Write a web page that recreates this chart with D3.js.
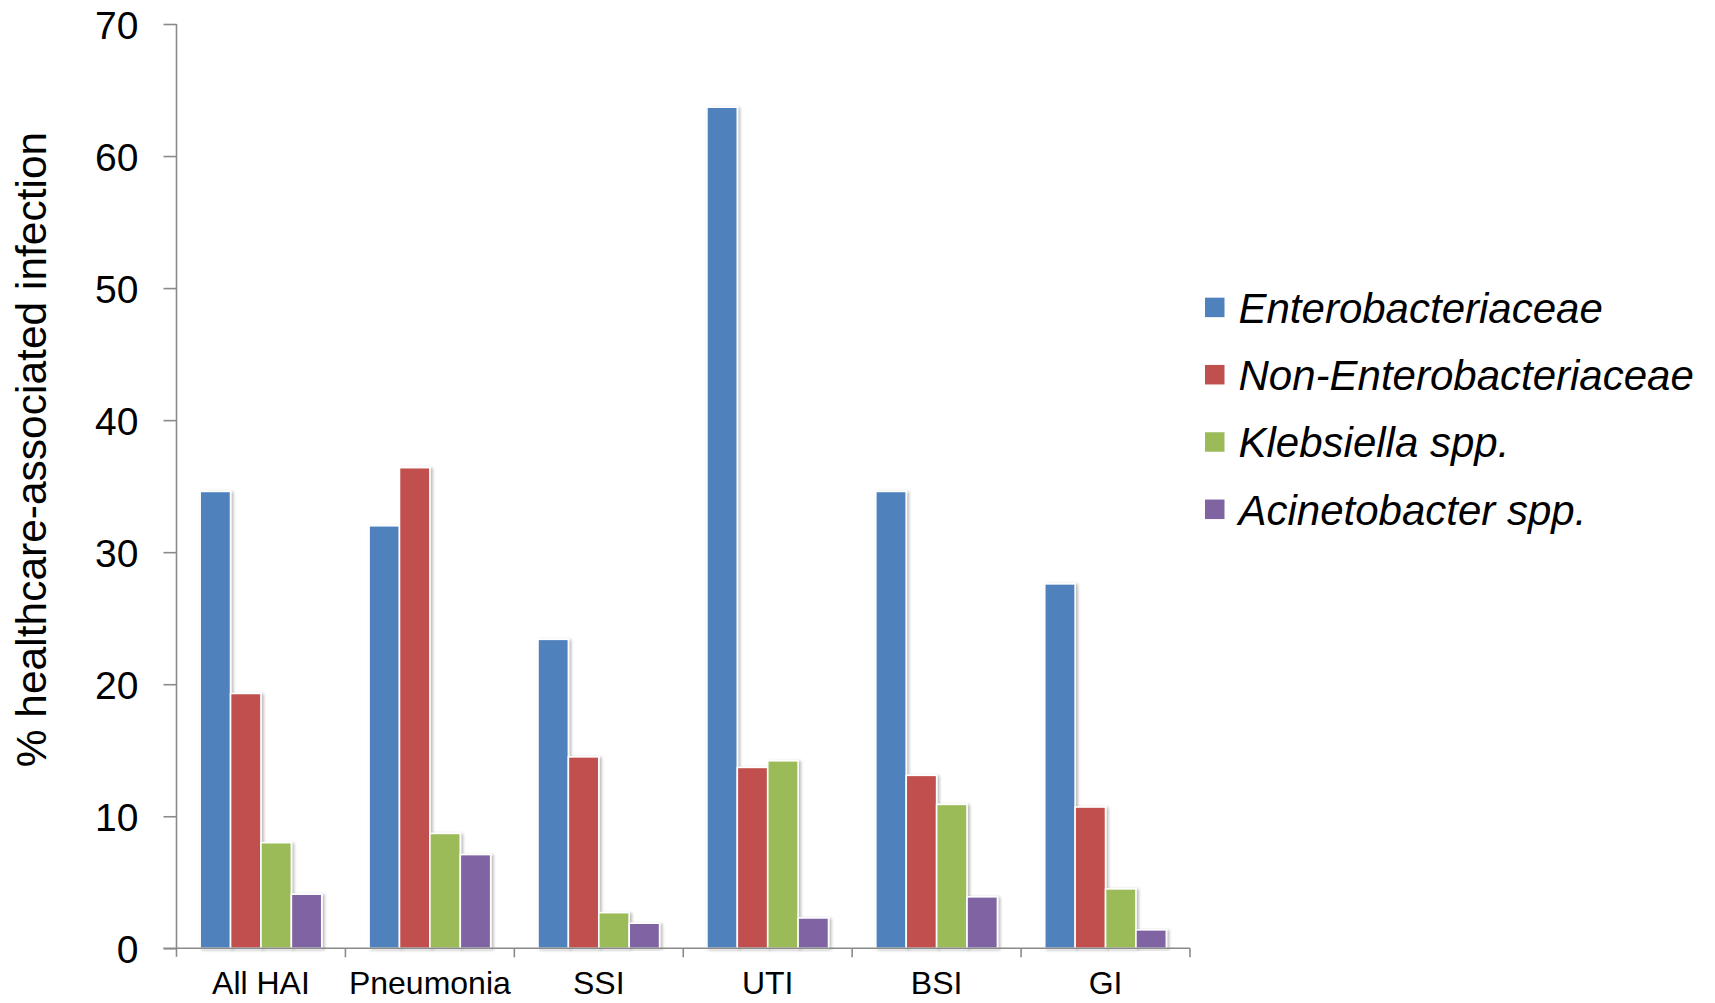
<!DOCTYPE html>
<html>
<head>
<meta charset="utf-8">
<script src="https://cdn.jsdelivr.net/npm/d3@7"></script>
<style>
  html, body { margin: 0; padding: 0; background: #fff; }
  svg { display: block; font-family: "Liberation Sans", Arial, sans-serif; }
</style>
</head>
<body>
<svg id="chart" width="1715" height="1003"></svg>
<script>
// Infection sites and the organism groups reported for each
const categories = ["All HAI", "Pneumonia", "SSI", "UTI", "BSI", "GI"];
const seriesNames = ["Enterobacteriaceae", "Non-Enterobacteriaceae", "Klebsiella spp.", "Acinetobacter spp."];
const enterobacteriaceae    = [34.6, 32.0, 23.4, 63.7, 34.6, 27.6];
const nonEnterobacteriaceae = [19.3, 36.4, 14.5, 13.7, 13.1, 10.7];
const klebsiella            = [8.0, 8.7, 2.7, 14.2, 10.9, 4.5];
const acinetobacter         = [4.1, 7.1, 1.9, 2.3, 3.9, 1.4];
const yTicks = [0, 10, 20, 30, 40, 50, 60, 70];
const yTitle = "% healthcare-associated infection";

const seriesValues = [enterobacteriaceae, nonEnterobacteriaceae, klebsiella, acinetobacter];
const colors = ["#4F81BD", "#C0504D", "#9BBB59", "#8064A2"];

const svg = d3.select("#chart");
const axisColor = "#8a8a8a";

// Drop shadow used on the bars
const defs = svg.append("defs");
const f = defs.append("filter").attr("id", "shadow")
  .attr("x", "-20%").attr("y", "-5%").attr("width", "150%").attr("height", "115%");
f.append("feDropShadow").attr("dx", 2).attr("dy", 1).attr("stdDeviation", 1.5)
  .attr("flood-color", "#000").attr("flood-opacity", 0.28);

const plot = { left: 176.5, right: 1190, top: 24, bottom: 948.3 };

const y = d3.scaleLinear().domain([0, 70]).range([plot.bottom, plot.top]);
const x0 = d3.scaleBand().domain(categories).range([plot.left, plot.right]).padding(0);
const bw = x0.bandwidth();
const inset = bw * 0.14;
const x1 = d3.scaleBand().domain(seriesNames).range([inset, bw - inset]).padding(0);

// Bars
const groups = svg.append("g").selectAll("g")
  .data(categories)
  .join("g")
  .attr("transform", d => `translate(${x0(d)},0)`);

groups.selectAll("rect")
  .data((c, i) => seriesNames.map((s, k) => ({ s, k, v: seriesValues[k][i] })))
  .join("rect")
  .attr("x", d => x1(d.s))
  .attr("y", d => y(d.v))
  .attr("width", x1.bandwidth())
  .attr("height", d => y(0) - y(d.v))
  .attr("fill", d => colors[d.k])
  .attr("stroke", "#fff")
  .attr("stroke-width", 1.6)
  .attr("filter", "url(#shadow)");

// Y axis
const yAxis = svg.append("g")
  .attr("transform", `translate(${plot.left},0)`)
  .call(d3.axisLeft(y).tickValues(yTicks).tickSize(13).tickPadding(25).tickSizeOuter(0));
yAxis.select(".domain").attr("stroke", axisColor).attr("stroke-width", 1.6)
  .attr("d", `M0,${plot.top}V${plot.bottom + 8.5}`);
yAxis.selectAll(".tick line").attr("stroke", axisColor).attr("stroke-width", 1.6);
yAxis.selectAll(".tick text")
  .attr("fill", "#000")
  .style("font-size", "39px")
  .style("font-family", "'Liberation Sans', Arial, sans-serif")
  .attr("dy", "0.36em");

// X axis: ticks at category boundaries
const xAxis = svg.append("g").attr("transform", `translate(0,${plot.bottom})`);
xAxis.append("line")
  .attr("x1", plot.left - 13).attr("x2", plot.right)
  .attr("stroke", axisColor).attr("stroke-width", 1.6);
const boundaries = categories.map(c => x0(c)).concat([x0(categories[categories.length - 1]) + bw]);
xAxis.selectAll(".bt").data(boundaries.slice(1)).join("line")
  .attr("class", "bt")
  .attr("x1", d => d).attr("x2", d => d)
  .attr("y1", 0).attr("y2", 9)
  .attr("stroke", axisColor).attr("stroke-width", 1.6);
xAxis.selectAll(".cl").data(categories).join("text")
  .attr("class", "cl")
  .attr("x", d => x0(d) + bw / 2)
  .attr("y", 46)
  .attr("text-anchor", "middle")
  .style("font-size", "32px")
  .attr("fill", "#000")
  .text(d => d);

// Y axis title
svg.append("text")
  .attr("transform", `translate(46,449.5) rotate(-90)`)
  .attr("text-anchor", "middle")
  .style("font-size", "42.5px")
  .attr("fill", "#000")
  .text(yTitle);

// Legend
const legend = svg.append("g").attr("transform", "translate(1205,307.4)");
const items = legend.selectAll("g").data(seriesNames).join("g")
  .attr("transform", (d, i) => `translate(0,${i * 67.3})`);
items.append("rect")
  .attr("x", 0).attr("y", -9.75).attr("width", 19.5).attr("height", 19.5)
  .attr("fill", (d, i) => colors[i]);
items.append("text")
  .attr("x", 33.5).attr("y", 15.3)
  .style("font-size", "42px")
  .style("font-style", "italic")
  .attr("fill", "#000")
  .text(d => d);
</script>
</body>
</html>
